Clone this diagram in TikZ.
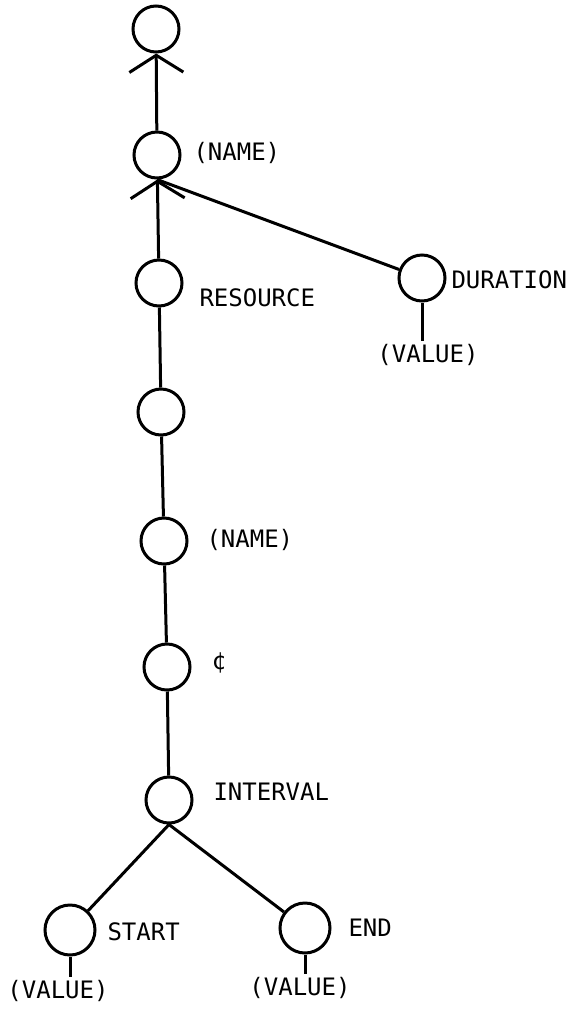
\documentclass[tikz,border=0pt]{standalone}
\usepackage{fontspec}
\setmonofont{DejaVu Sans Mono}
\usetikzlibrary{arrows.meta}
\begin{document}
\begin{tikzpicture}[x=1pt,y=-1pt,
  line width=3pt,
  nd/.style={circle,draw,minimum size=46pt,inner sep=0pt},
  ndb/.style={circle,draw,minimum size=50pt,inner sep=0pt},
  lbl/.style={inner sep=0pt,anchor=west,font=\ttfamily\fontsize{24pt}{24pt}\selectfont},
  val/.style={inner sep=2pt,font=\ttfamily\fontsize{24pt}{24pt}\selectfont},
  vtip/.style={-{Straight Barb[length=17pt,width=54pt]}}]
\useasboundingbox (0,0) rectangle (584,1013);
% circles
\node[nd] (top) at (156,29) {};
\node[nd] (name1) at (157,155) {};
\node[nd] (res) at (159,283) {};
\node[nd] (dur) at (422,278) {};
\node[nd] (empty) at (161,412) {};
\node[nd] (name2) at (164,541) {};
\node[nd] (cent) at (167,667) {};
\node[nd] (intv) at (169,800) {};
\node[ndb] (start) at (70,930) {};
\node[ndb] (end) at (305,928) {};
% labels
\node[lbl] (l1) at (192,153) {(NAME)};
\node[lbl] (l2) at (198,298) {RESOURCE};
\node[lbl] (l3) at (450,280) {DURATION};
\node[val] (dv) at (428,355) {(VALUE)};
\node[lbl] (l4) at (205,540) {(NAME)};
\node[lbl] (l5) at (210,663) {¢};
\node[lbl] (l6) at (212,792) {INTERVAL};
\node[lbl] (l7) at (106,932) {START};
\node[lbl] (l8) at (347,928) {END};
\node[val] (sv) at (58,991) {(VALUE)};
\node[val] (ev) at (300,988) {(VALUE)};
% connectors
\draw[vtip] (name1) -- (top);
\draw[vtip] (res) -- (name1);
\draw (name1.south) -- (dur);
\draw (dur.south) -- (dur.south |- dv.north);
\draw (res) -- (empty);
\draw (empty) -- (name2);
\draw (name2) -- (cent);
\draw (cent) -- (intv);
\draw (intv.south) -- (start);
\draw (intv.south) -- (end);
\draw (start.south) -- (start.south |- sv.north);
\draw (end.south) -- (end.south |- ev.north);
\end{tikzpicture}
\end{document}
